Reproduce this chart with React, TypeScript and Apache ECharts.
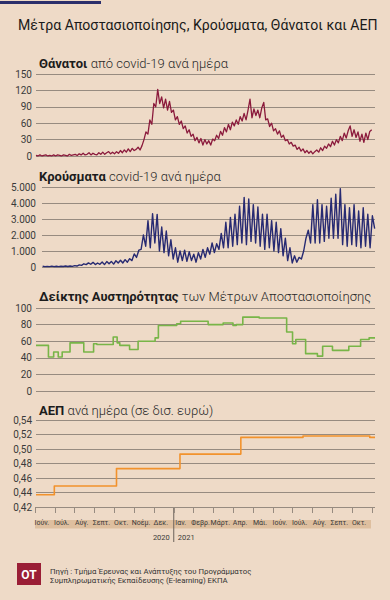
import React, { useEffect, useRef } from 'react';
import * as echarts from 'echarts';

const DAY = 86400000;
const ts = (s: string) => Date.parse(s + 'T00:00:00Z');

const AXIS_START = '2020-06-01';
const CASES_AXIS_START = '2020-06-10';
const AXIS_END = '2021-11-01';

const TITLE = 'Μέτρα Αποστασιοποίησης, Κρούσματα, Θάνατοι και ΑΕΠ';

// Deaths per day, one value every 3 days from 2020-06-01
const DEATHS_START = '2020-06-01';
const DEATHS_STEP_DAYS = 3;
const DEATHS = [
  1, 0, 2, 0, 1, 2, 0, 1, 0, 2,
  0, 2, 1, 0, 2, 1, 0, 3, 1, 2,
  3, 1, 4, 2, 5, 2, 3, 6, 2, 5, 3,
  2, 6, 3, 7, 3, 6, 8, 4, 7, 4,
  8, 5, 10, 6, 11, 7, 13, 8, 14, 10,
  12, 16, 11, 19, 30, 44, 40, 66, 58, 96,
  90, 122, 96, 108, 88, 104, 84, 100, 80, 84, 66,
  72, 58, 64, 50, 55, 42, 48, 36, 40, 28,
  34, 24, 32, 20, 30, 22, 28, 20, 31,
  28, 38, 32, 45, 38, 52, 44, 58, 48, 62, 55,
  66, 58, 72, 64, 78, 66, 84, 104, 70, 86,
  74, 84, 70, 88, 98, 66, 68, 54, 60, 46,
  50, 40, 46, 34, 38, 28, 30, 22, 25, 18,
  20, 12, 16, 9, 13, 6, 10, 5, 9, 4,
  8, 11, 7, 15, 10, 18, 14, 22, 17, 27, 20,
  30, 24, 36, 28, 42, 33, 46, 55, 36, 48,
  34, 44, 27, 40, 25, 42, 30, 45, 48,
];

// Cases per day, two readings a week (low / high) from 2020-06-11
const CASES_START = '2020-06-11';
const CASES_STEP_DAYS = 3.5;
const CASES = [
  50,
  20, 40, 25, 55, 20, 45, 25, 50, 30, 65, 30, 60, 40, 85,
  60, 130, 100, 200, 150, 260, 170, 290, 150, 250, 170, 310,
  150, 340, 200, 350, 180, 390, 250, 420, 250, 460, 300, 520,
  400, 820, 600, 1050, 1100, 2000, 1300, 2900, 1200, 3330, 1500, 3290,
  1000, 2500, 900, 2250, 700, 1700, 500, 1200, 300, 1000, 400, 1050,
  350, 950, 400, 800, 300, 900, 500, 1100, 600, 1200, 800, 1500,
  900, 1450, 1100, 2100, 1200, 2800, 1200, 3100, 1300, 3300, 1400, 3800,
  1500, 4350, 1400, 4250, 1600, 3900, 1500, 3750, 1300, 3300, 1100, 3300,
  1200, 2900, 1000, 2800, 900, 2400, 700, 1800, 400, 1200, 250, 700,
  300, 600, 500, 1000, 1800, 2300, 1500, 3900, 1500, 4200, 1500, 3900,
  1600, 3800, 1800, 4300, 1800, 4550, 1800, 4900, 1400, 3900, 1300, 3700,
  1400, 3900, 1300, 3500, 1200, 3700, 1300, 3300, 1200, 3200,
  2400,
];

// Stringency index: date of each change and the new level
const STRINGENCY_DATES = [
  '2020-06-01', '2020-06-20', '2020-06-28', '2020-07-05', '2020-07-11', '2020-07-23',
  '2020-08-13', '2020-08-28', '2020-09-02', '2020-09-27', '2020-10-03', '2020-10-07',
  '2020-10-22', '2020-11-04', '2020-11-30', '2020-12-05', '2021-01-02', '2021-01-08',
  '2021-02-19', '2021-03-14', '2021-03-29', '2021-04-03', '2021-04-13', '2021-05-08',
  '2021-06-19', '2021-06-28', '2021-07-03', '2021-07-18', '2021-08-05', '2021-08-13',
  '2021-08-28', '2021-09-22', '2021-10-10', '2021-10-23', '2021-11-01',
];
const STRINGENCY = [
  55, 41, 47, 41, 47, 58,
  47, 57, 56, 65, 58, 55,
  50, 60, 64, 79, 81, 84,
  80, 82, 79, 80, 89, 88,
  71, 57, 62, 45, 42, 54,
  49, 54, 62, 64, 64,
];

// GDP per day (bn euro)
const GDP_DATES = [
  '2020-06-01', '2020-06-29', '2020-10-02', '2021-01-07',
  '2021-04-10', '2021-07-14', '2021-10-24', '2021-11-01',
];
const GDP = [0.437, 0.449, 0.473, 0.493, 0.516, 0.518, 0.516, 0.516];

const MONTHS = [
  'Ιούν.', 'Ιούλ.', 'Αύγ.', 'Σεπτ.', 'Οκτ.', 'Νοέμ.', 'Δεκ.',
  'Ιαν.', 'Φεβρ.', 'Μάρτ.', 'Απρ.', 'Μάι.', 'Ιούν.', 'Ιούλ.', 'Αύγ.', 'Σεπτ.', 'Οκτ.',
];
const YEARS = ['2020', '2021'];

const DEATHS_TICKS = { min: 0, max: 150, interval: 30 };
const CASES_TICKS = { min: 0, max: 5000, interval: 1000 };
const STRINGENCY_TICKS = { min: 0, max: 100, interval: 20 };
const GDP_TICKS = { min: 0.42, max: 0.54, interval: 0.02 };

const BG = '#EEDAC7';
const GRID_LINE = '#978b80';
const LABEL = '#3a3a3a';
const FONT = 'Roboto';

const dotThousands = (v: number) => String(v).replace(/\B(?=(\d{3})+(?!\d))/g, '.');

export default function App() {
  const ref = useRef<HTMLDivElement>(null);

  useEffect(() => {
    if (!ref.current) return;
    const chart = echarts.init(ref.current, undefined, { renderer: 'svg' });

    const grids = [
      { left: 36, top: 74, width: 339, height: 82 },
      { left: 42, top: 187, width: 333, height: 80 },
      { left: 36, top: 308, width: 339, height: 83 },
      { left: 36, top: 420, width: 339, height: 87 },
      { left: 35, top: 420, width: 337, height: 87 },
    ];

    const yBase = (t: any, fmt?: (v: number) => string, margin = 4) => ({
      type: 'value',
      min: t.min,
      max: t.max,
      interval: t.interval,
      axisLine: { show: false },
      axisTick: { show: false },
      axisLabel: {
        fontSize: 10,
        color: LABEL,
        margin,
        fontFamily: FONT,
        formatter: fmt,
      },
      splitLine: { show: true, lineStyle: { color: GRID_LINE, width: 1 } },
    });

    const xTime = (gridIndex: number, start: string) => ({
      type: 'time',
      gridIndex,
      min: ts(start),
      max: ts(AXIS_END),
      show: false,
      position: 'top',
    });

    const lineSeries = (idx: number, data: any[], color: string, width: number, step?: string) => ({
      type: 'line',
      xAxisIndex: idx,
      yAxisIndex: idx,
      data,
      showSymbol: false,
      symbol: 'none',
      step: step as any,
      silent: true,
      lineStyle: { color, width, join: 'round' },
    });

    const deathsData = DEATHS.map((v, i) => [ts(DEATHS_START) + i * DEATHS_STEP_DAYS * DAY, v]);
    const casesData = CASES.map((v, i) => [ts(CASES_START) + i * CASES_STEP_DAYS * DAY, v]);
    const strData = STRINGENCY.map((v, i) => [ts(STRINGENCY_DATES[i]), v]);
    const gdpData = GDP.map((v, i) => [ts(GDP_DATES[i]), v]);

    const monthGrid = grids[4];
    const yearX = monthGrid.left + (7 * monthGrid.width) / MONTHS.length;

    const sub = (bold: string, rest: string, y: number) => ({
      type: 'text',
      style: {
        text: `{b|${bold}} {r|${rest}}`,
        x: 39,
        y,
        verticalAlign: 'middle',
        rich: {
          b: { fontFamily: FONT, fontSize: 13, fontWeight: 'bold', fill: '#1c1c1c' },
          r: { fontFamily: FONT, fontSize: 13, fontWeight: 300, fill: '#2a2a2a' },
        },
      },
    });

    chart.setOption({
      animation: false,
      backgroundColor: BG,
      textStyle: { fontFamily: FONT },
      grid: grids.map((g) => ({ ...g, containLabel: false })),
      xAxis: [
        xTime(0, AXIS_START),
        xTime(1, CASES_AXIS_START),
        xTime(2, AXIS_START),
        xTime(3, AXIS_START),
        {
          type: 'category',
          gridIndex: 4,
          position: 'bottom',
          data: MONTHS,
          boundaryGap: true,
          axisLine: { show: false },
          axisTick: { show: true, length: 6, interval: 0, lineStyle: { color: GRID_LINE, width: 1 } },
          axisLabel: {
            interval: 0,
            fontSize: 7,
            color: LABEL,
            margin: 12,
            fontFamily: FONT,
            padding: [0, 6, 0, 0],
          },
          splitLine: { show: false },
        },
      ],
      yAxis: [
        { ...yBase(DEATHS_TICKS), gridIndex: 0 },
        { ...yBase(CASES_TICKS, dotThousands, 6), gridIndex: 1 },
        { ...yBase(STRINGENCY_TICKS), gridIndex: 2 },
        { ...yBase(GDP_TICKS, (v: number) => v.toFixed(2).replace('.', ',')), gridIndex: 3 },
        { type: 'value', gridIndex: 4, show: false, min: 0, max: 1 },
      ],
      series: [
        lineSeries(0, deathsData, '#8B1A3C', 1.3),
        lineSeries(1, casesData, '#272A72', 1.4),
        lineSeries(2, strData, '#78B548', 1.6, 'end'),
        lineSeries(3, gdpData, '#F2922C', 1.6, 'end'),
      ],
      graphic: [
        { type: 'rect', shape: { x: 0, y: 1, width: 101, height: 3 }, style: { fill: '#2B2E6B' } },
        {
          type: 'text',
          x: 18,
          y: 25,
          scaleX: 0.94,
          style: {
            text: TITLE,
            x: 0,
            y: 0,
            verticalAlign: 'middle',
            fontFamily: FONT,
            fontSize: 15,
            fill: '#1a1a1a',
          },
        },
        sub('Θάνατοι', 'από covid-19 ανά ημέρα', 63),
        sub('Κρούσματα', 'covid-19 ανά ημέρα', 176),
        sub('Δείκτης Αυστηρότητας', 'των Μέτρων Αποστασιοποίησης', 296),
        sub('ΑΕΠ', 'ανά ημέρα (σε δισ. ευρώ)', 410),
        {
          type: 'rect',
          z: -1,
          shape: { x: monthGrid.left, y: 520, width: monthGrid.width - 1, height: 8.5 },
          style: { fill: '#DEBF9F' },
        },
        {
          type: 'line',
          shape: { x1: yearX, y1: 508, x2: yearX, y2: 542 },
          style: { stroke: '#6b625a', lineWidth: 1 },
        },
        {
          type: 'text',
          style: { text: YEARS[0], x: yearX - 4, y: 537, align: 'right', verticalAlign: 'middle', fontFamily: FONT, fontSize: 7.5, fill: LABEL },
        },
        {
          type: 'text',
          style: { text: YEARS[1], x: yearX + 4, y: 537, align: 'left', verticalAlign: 'middle', fontFamily: FONT, fontSize: 7.5, fill: LABEL },
        },
        { type: 'rect', shape: { x: 17, y: 563, width: 24, height: 22 }, style: { fill: '#9A1E36' } },
        {
          type: 'text',
          style: { text: 'OT', x: 29, y: 574.5, align: 'center', verticalAlign: 'middle', fontFamily: FONT, fontSize: 12, fontWeight: 'bold', fill: '#ffffff' },
        },
        {
          type: 'text',
          style: {
            text: 'Πηγή : Τμήμα Έρευνας και Ανάπτυξης του Προγράμματος',
            x: 50, y: 571.5, verticalAlign: 'middle', fontFamily: FONT, fontSize: 7.8, fill: '#333',
          },
        },
        {
          type: 'text',
          style: {
            text: 'Συμπληρωματικής Εκπαίδευσης (E-learning) ΕΚΠΑ',
            x: 50, y: 580.5, verticalAlign: 'middle', fontFamily: FONT, fontSize: 7.8, fill: '#333',
          },
        },
      ],
    });

    return () => chart.dispose();
  }, []);

  return (
    <div
      ref={ref}
      style={{ position: 'fixed', left: 0, top: 0, width: 390, height: 600 }}
    />
  );
}
